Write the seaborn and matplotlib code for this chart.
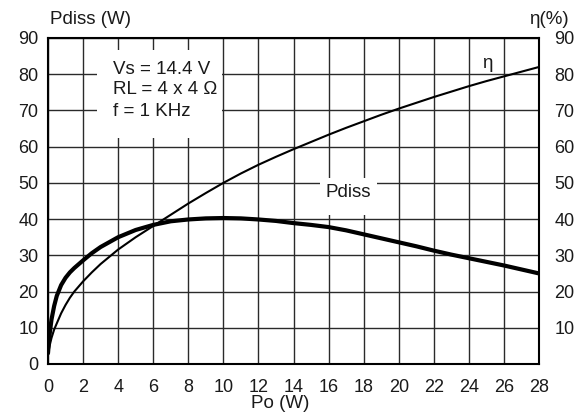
import matplotlib
matplotlib.use("Agg")
import matplotlib.pyplot as plt
from matplotlib.patches import Rectangle
import numpy as np
import pandas as pd
import seaborn as sns

# ---- data ----
po_pdiss = [0.0, 0.05, 0.1, 0.2, 0.35, 0.5, 0.75, 1.0, 1.25, 1.5, 2.0, 2.5, 3.0, 4.0, 5.0, 6.0, 7.0,
            8.0, 9.0, 10.0, 11.0, 12.0, 13.0, 14.0, 15.0, 16.0, 17.0, 18.0, 19.0, 20.0, 21.0,
            22.0, 23.0, 24.0, 25.0, 26.0, 27.0, 28.0]
pdiss = [3.0, 6.0, 8.5, 12.3, 16.0, 18.8, 21.8, 23.8, 25.3, 26.5, 28.6, 30.6, 32.3, 35.0, 37.0,
         38.4, 39.4, 39.9, 40.2, 40.3, 40.2, 39.9, 39.5, 38.9, 38.4, 37.8, 36.9, 35.8, 34.7,
         33.6, 32.5, 31.3, 30.2, 29.2, 28.2, 27.2, 26.1, 25.0]

po_eta = [0.0, 0.05, 0.1, 0.2, 0.35, 0.5, 0.75, 1.0, 1.25, 1.5, 2.0, 2.5, 3.0, 4.0, 5.0, 6.0, 7.0,
          8.0, 9.0, 10.0, 11.0, 12.0, 13.0, 14.0, 15.0, 16.0, 17.0, 18.0, 19.0, 20.0, 21.0,
          22.0, 23.0, 24.0, 25.0, 26.0, 27.0, 28.0]
eta = [2.5, 4.0, 5.2, 7.2, 9.5, 11.2, 14.0, 16.3, 18.3, 20.0, 22.8, 25.3, 27.6, 31.6, 35.0,
       38.1, 41.2, 44.3, 47.2, 50.0, 52.6, 55.0, 57.2, 59.3, 61.3, 63.3, 65.2, 67.0, 68.8,
       70.5, 72.1, 73.7, 75.2, 76.7, 78.1, 79.4, 80.7, 82.0]

x_ticks = list(range(0, 29, 2))
y_ticks_left = list(range(0, 91, 10))
y_ticks_right = list(range(10, 91, 10))

conditions = ["Vs = 14.4 V", "RL = 4 x 4 \u03a9", "f = 1 KHz"]

# ---- styling ----
sns.set_style("white")
plt.rcParams["font.family"] = ["Liberation Sans", "DejaVu Sans"]
FS = 13.5
TFS = 13

W, H = 581, 420
fig = plt.figure(figsize=(W / 100, H / 100), dpi=100)
L, R, T, B = 48, 539, 38, 364
ax = fig.add_axes([L / W, 1 - B / H, (R - L) / W, (B - T) / H])

ax.set_xlim(0, 28)
ax.set_ylim(0, 90)
ax.set_xticks(x_ticks)
ax.set_yticks(y_ticks_left)
ax.grid(True, color="#2a2a2a", linewidth=1.0)
ax.set_axisbelow(True)
for s in ax.spines.values():
    s.set_color("black")
    s.set_linewidth(1.5)
ax.tick_params(axis="both", length=0, labelsize=TFS, colors="#1a1a1a")
ax.tick_params(axis="y", pad=7)
ax.tick_params(axis="x", pad=11)

# white label backgrounds interrupting the grid
ax.add_patch(Rectangle((2.8, 62.4), 7.1, 24.3, facecolor="white", edgecolor="none", zorder=1.5))
ax.add_patch(Rectangle((15.5, 41.2), 3.25, 10.2, facecolor="white", edgecolor="none", zorder=1.5))

df_p = pd.DataFrame({"Po": po_pdiss, "val": pdiss})
df_e = pd.DataFrame({"Po": po_eta, "val": eta})
sns.lineplot(data=df_p, x="Po", y="val", ax=ax, color="black", linewidth=3.0, sort=True,
             estimator=None, zorder=3)
sns.lineplot(data=df_e, x="Po", y="val", ax=ax, color="black", linewidth=1.5, sort=True,
             estimator=None, zorder=3)
ax.set_xlabel("")
ax.set_ylabel("")
ax.set_xlim(0, 28)
ax.set_ylim(0, 90)

ax2 = ax.twinx()
ax2.set_ylim(0, 90)
ax2.set_yticks(y_ticks_right)
ax2.tick_params(axis="y", length=0, labelsize=TFS, pad=11, colors="#1a1a1a")
for s in ax2.spines.values():
    s.set_visible(False)
ax2.grid(False)

def fx(x):
    return x / W

def fy(y):
    return 1 - y / H

# text annotations
for i, line in enumerate(conditions):
    fig.text(fx(113), fy(69 + 21 * i), line, ha="left", va="center", fontsize=FS, color="#1a1a1a")
fig.text(fx(348), fy(193), "Pdiss", ha="center", va="center", fontsize=FS, color="#1a1a1a")
fig.text(fx(487), fy(64), "\u03b7", ha="center", va="center", fontsize=FS, color="#1a1a1a")

fig.text(fx(50), fy(20), "Pdiss (W)", ha="left", va="center", fontsize=FS, color="#1a1a1a")
fig.text(fx(569), fy(20), "\u03b7(%)", ha="right", va="center", fontsize=FS, color="#1a1a1a")
fig.text(fx(280), fy(404), "Po (W)", ha="center", va="center", fontsize=FS, color="#1a1a1a")

fig.savefig("out.png", dpi=100, facecolor="white")
